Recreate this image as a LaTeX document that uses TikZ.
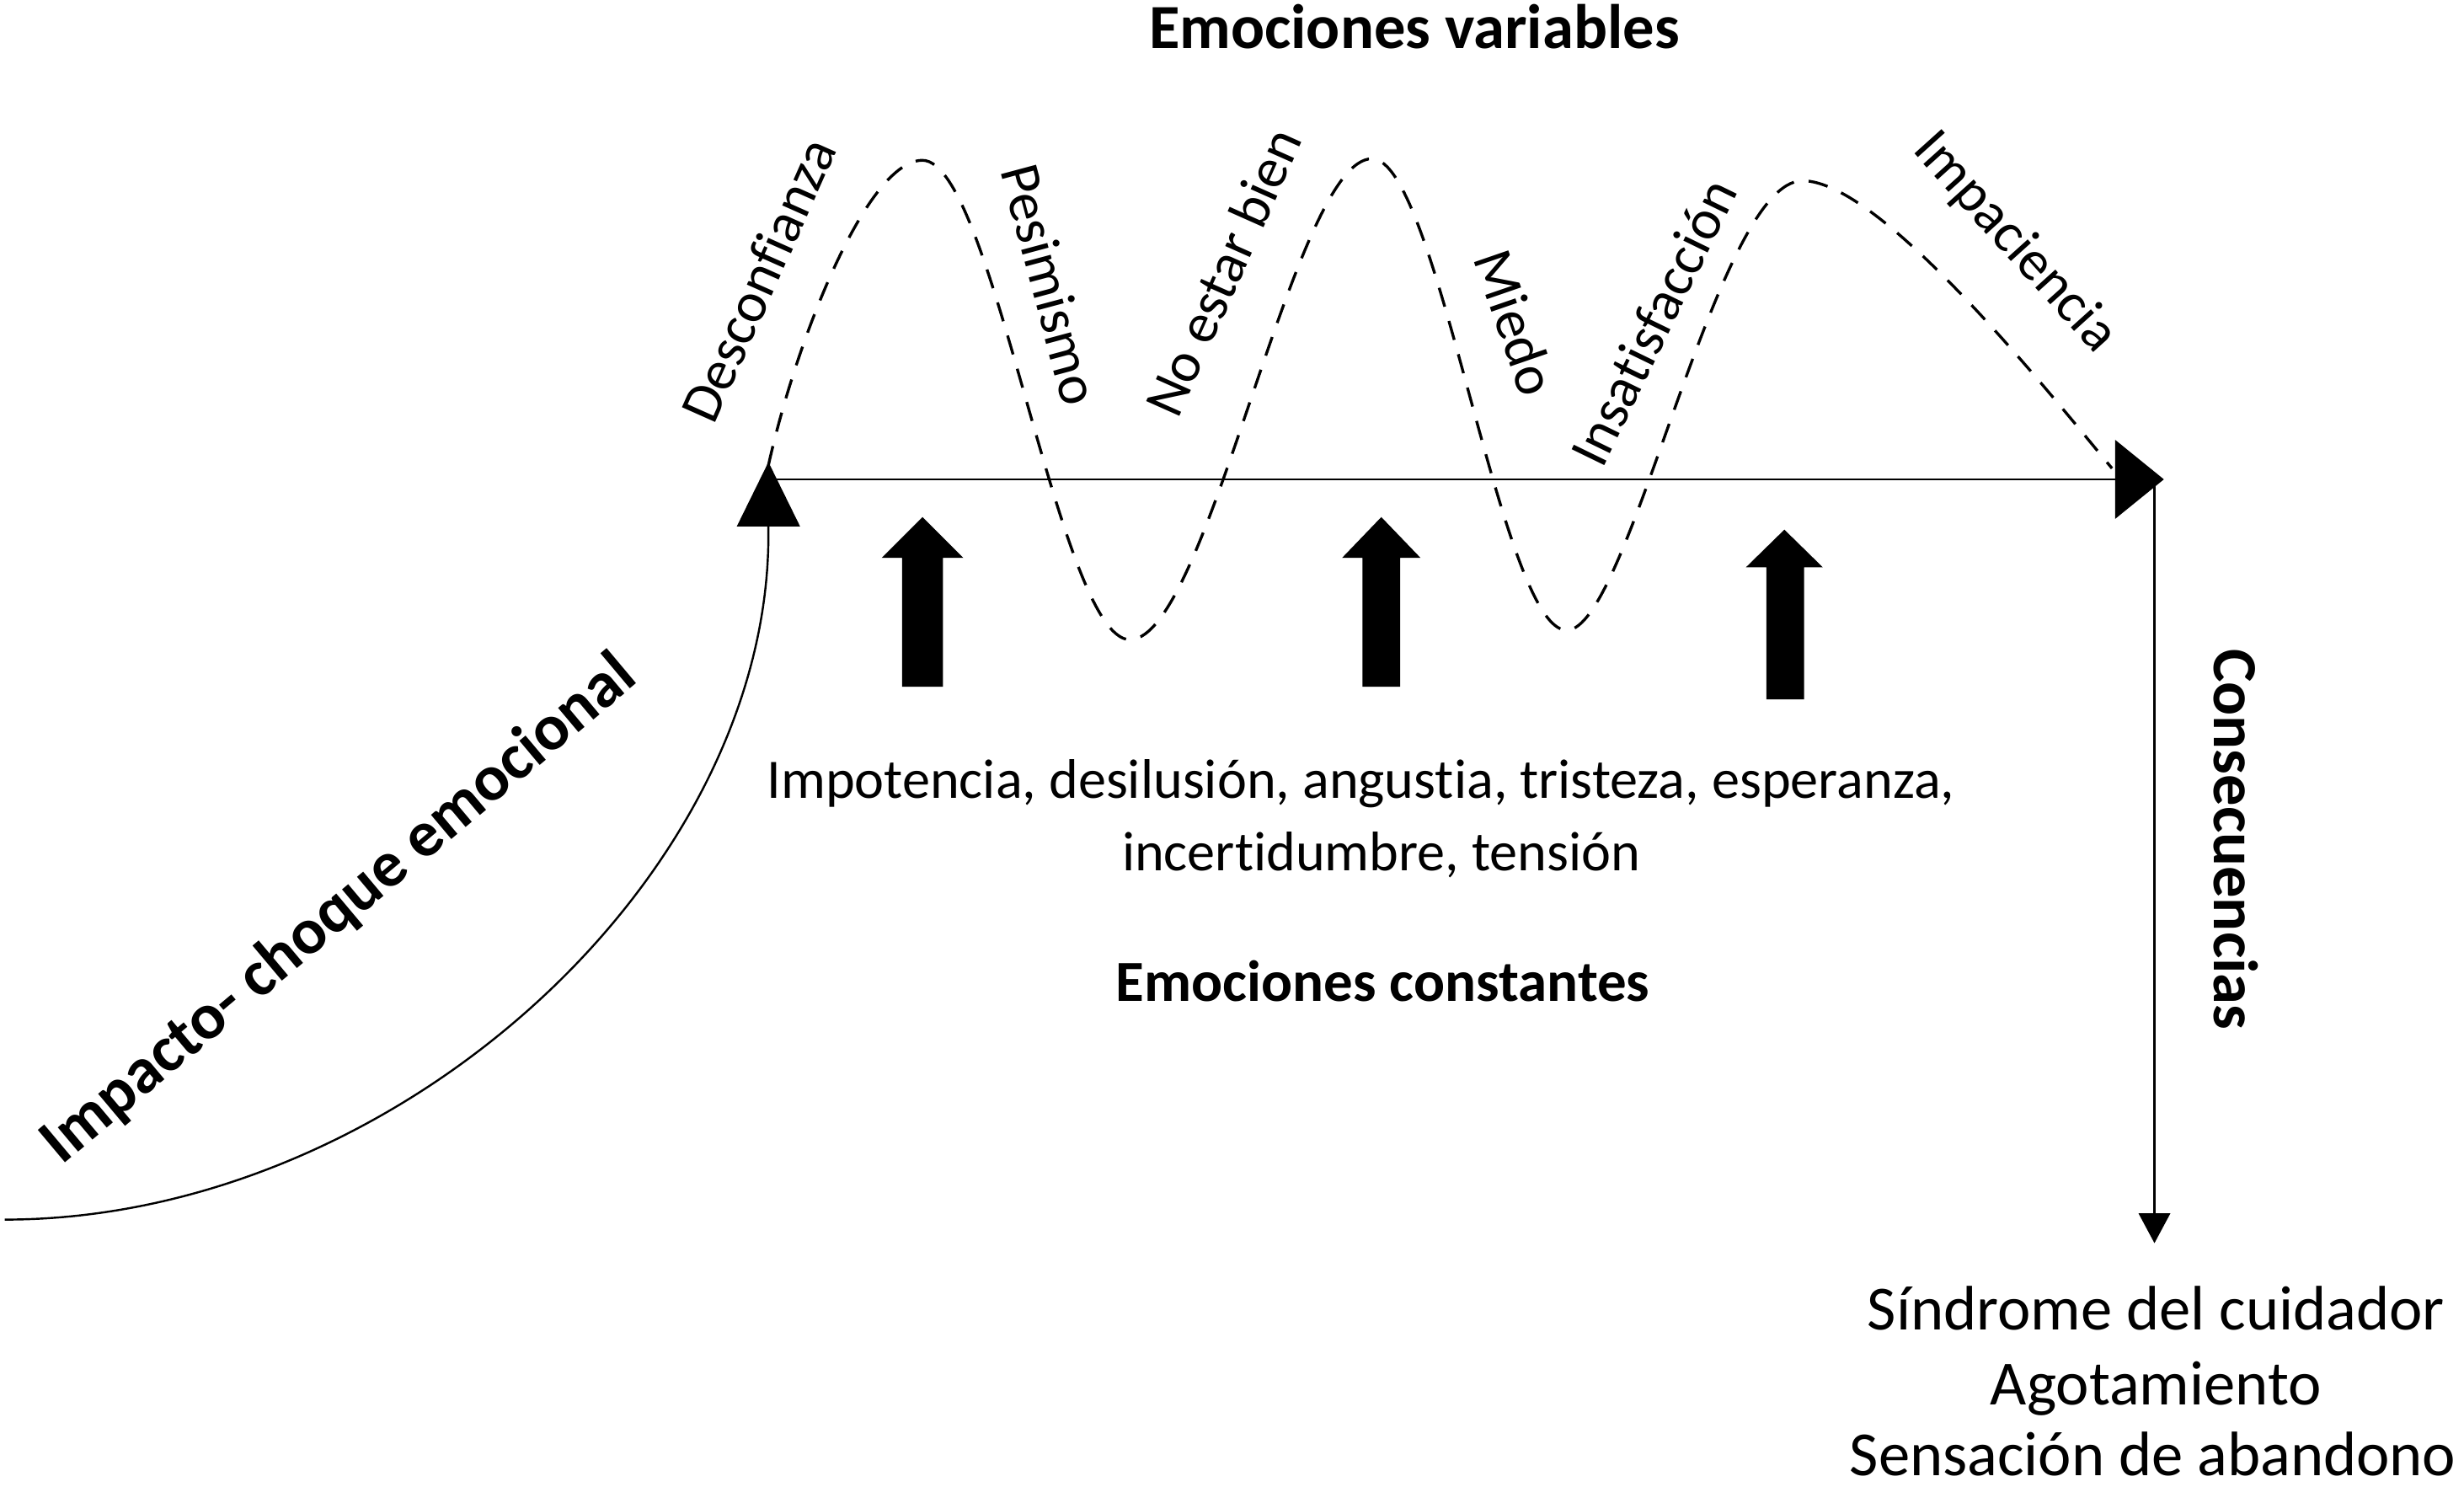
\documentclass[tikz,border=0pt]{standalone}
\usepackage{fontspec}
\setmainfont{Carlito}[Ligatures=NoCommon]
\usetikzlibrary{arrows.meta}
\begin{document}
\begin{tikzpicture}[x=1pt,y=-1pt,
  txt/.style={inner sep=0pt, font=\fontsize{35.5}{46}\selectfont},
  lbl/.style={inner sep=0pt, font=\fontsize{36}{44}\selectfont},
  cons/.style={inner sep=0pt, font=\fontsize{40}{48}\selectfont},
  ttl/.style={inner sep=0pt, font=\fontsize{40}{48}\selectfont\bfseries},
  axis/.style={line width=1.3pt, draw=black},
  wave/.style={line width=1.8pt, dash pattern=on 12.5pt off 9.5pt},
  blk/.style={fill=black}]
\useasboundingbox (0,0) rectangle (1568,946);
% coordinates
\coordinate (start) at (3,776);
\coordinate (o) at (489,305);
\coordinate (otip) at (489,294);
\coordinate (e) at (1377,305);
\coordinate (vtop) at (1371,305);
\coordinate (vend) at (1371,791);
% impact curve
\draw[line width=1.3pt, -{Triangle[width=40pt,length=41pt]}] (start) .. controls (250,776) and (489,560) .. (489,340) -- (otip);
% axis
\draw[axis, -{Triangle[width=50pt,length=31pt]}] (o) -- (e);
\draw[axis, -{Triangle[width=20pt,length=19pt]}] (vtop) -- (vend);
% wave
\draw[wave] (489,296) .. controls (507,215) and (552,102) .. (587,102)
 .. controls (632,102) and (674,407) .. (719,407)
 .. controls (769,407) and (823,101) .. (873,101)
 .. controls (915,101) and (955,401) .. (997,401)
 .. controls (1037,401) and (1092,115) .. (1147,115)
 .. controls (1197,115) and (1304,250) .. (1344,298);
% block arrows
\fill[blk] (587,329) -- (613,355) -- (600,355) -- (600,437) -- (574,437) -- (574,355) -- (561,355) -- cycle;
\fill[blk] (879,329) -- (904,355) -- (891,355) -- (891,437) -- (867,437) -- (867,355) -- (854,355) -- cycle;
\fill[blk] (1135.5,337) -- (1160,361) -- (1148,361) -- (1148,445) -- (1124,445) -- (1124,361) -- (1111,361) -- cycle;
% labels
\node[ttl, anchor=base] (tvar) at (900,31) {Emociones variables};
\node[lbl, rotate=66] (l1) at (482.5,178) {Desconfianza};
\node[lbl, rotate=-75] (l2) at (668.5,181) {Pesimismo};
\node[lbl, rotate=66] (l3) at (778,173) {No estar bien};
\node[lbl, rotate=-71] (l4) at (964.5,205) {Miedo};
\node[lbl, rotate=64] (l5) at (1052,205) {Insatisfacción};
\node[lbl, rotate=-48] (l6) at (1282,154.5) {Impaciencia};
\node[txt, anchor=base] (c1) at (866,508) {Impotencia, desilusión, angustia, tristeza, esperanza,};
\node[txt, anchor=base] (c2) at (879,554) {incertidumbre, tensión};
\node[ttl, font=\fontsize{37}{45}\selectfont\bfseries, anchor=base] (tcon) at (880,637) {Emociones constantes};
\node[ttl, font=\fontsize{41.5}{48}\selectfont\bfseries, rotate=40] (imp) at (216,579) {Impacto- choque emocional};
\node[ttl, font=\fontsize{40}{48}\selectfont\bfseries, rotate=-90, anchor=base] (csq) at (1409,534) {Consecuencias};
\node[cons, anchor=base] (s1) at (1372,846) {Síndrome del cuidador};
\node[cons, anchor=base] (s2) at (1372,894) {Agotamiento};
\node[cons, anchor=base] (s3) at (1370,939) {Sensación de abandono};
\end{tikzpicture}
\end{document}
